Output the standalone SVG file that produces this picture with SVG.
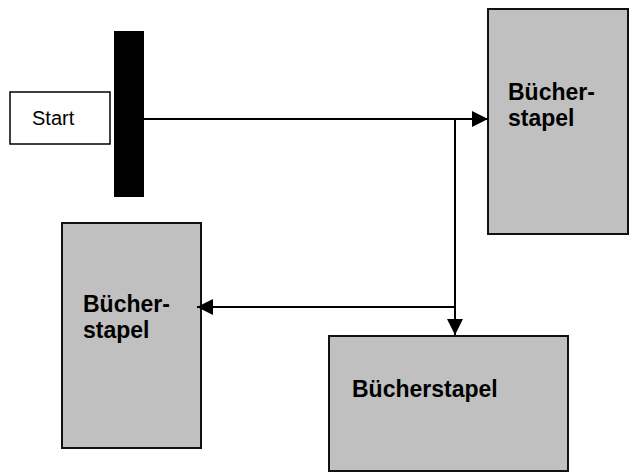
<svg xmlns="http://www.w3.org/2000/svg" width="629" height="473" viewBox="0 0 629 473">
  <style>
    .stack { fill: #c0c0c0; stroke: #111; stroke-width: 2; }
    .label { font-family: "Liberation Sans", Arial, sans-serif; font-weight: bold; font-size: 23px; fill: #000; }
    .wire { stroke: #000; stroke-width: 2; fill: none; }
  </style>
  <defs>
    <marker id="arrow" markerUnits="userSpaceOnUse" markerWidth="16" markerHeight="16" refX="16" refY="8" orient="auto">
      <path d="M0,0 L16,8 L0,16 Z" fill="#000"/>
    </marker>
  </defs>

  <rect width="629" height="473" fill="#fff"/>

  <!-- start block and sync bar -->
  <g id="start">
    <rect x="10" y="92" width="100" height="52" fill="#fff" stroke="#000" stroke-width="1.5"/>
    <text x="32" y="125" font-family="Liberation Sans, Arial, sans-serif" font-size="20">Start</text>
  </g>
  <g id="bar">
    <rect x="114" y="31" width="30" height="166" fill="#000"/>
  </g>

  <!-- book stacks -->
  <g id="stack-right">
    <rect class="stack" x="488" y="9" width="140" height="225"/>
    <text class="label" x="508" y="100">Bücher-</text>
    <text class="label" x="508" y="126">stapel</text>
  </g>
  <g id="stack-left">
    <rect class="stack" x="62" y="223" width="139" height="225"/>
    <text class="label" x="83" y="312">Bücher-</text>
    <text class="label" x="83" y="338">stapel</text>
  </g>
  <g id="stack-bottom">
    <rect class="stack" x="329" y="336" width="239" height="135"/>
    <text class="label" x="352" y="397">Bücherstapel</text>
  </g>

  <!-- connectors -->
  <g id="connectors">
    <line class="wire" x1="144" y1="119" x2="488" y2="119" marker-end="url(#arrow)"/>
    <line class="wire" x1="455" y1="119" x2="455" y2="335" marker-end="url(#arrow)"/>
    <line class="wire" x1="455" y1="307" x2="197" y2="307" marker-end="url(#arrow)"/>
  </g>
</svg>
